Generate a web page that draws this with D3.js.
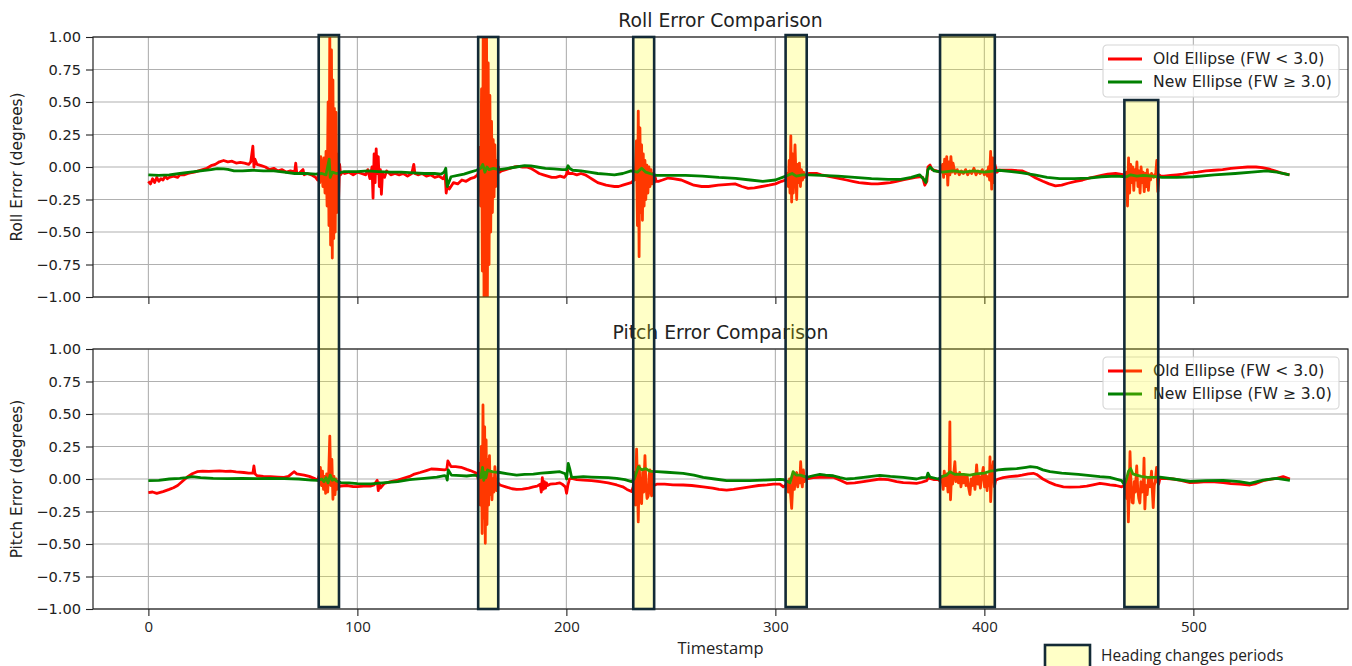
<!DOCTYPE html>
<html>
<head>
<meta charset="utf-8">
<script src="https://d3js.org/d3.v7.min.js"></script>
<style>
body { margin: 0; background: #fff; }
text { font-family: "DejaVu Sans", sans-serif; fill: #222; }
</style>
</head>
<body>
<script>

// tick values
var xTicks = [0, 100, 200, 300, 400, 500];
var yTicks = [-1, -0.75, -0.5, -0.25, 0, 0.25, 0.5, 0.75, 1];

// legend names
var seriesNames = ["Old Ellipse (FW < 3.0)", "New Ellipse (FW \u2265 3.0)"];
var periodName = "Heading changes periods";

// heading change periods (timestamp start/end, top in roll units, bottom in pitch units)
var periodStart = [81.5, 157.8, 232.0, 304.9, 378.8, 467.0];
var periodEnd = [91.2, 167.4, 242.0, 315.0, 405.0, 483.2];
var periodTop = [1.015, 1.0, 1.0, 1.015, 1.015, 0.515];
var periodBottom = [-0.985, -1.0, -1.0, -0.985, -0.985, -0.985];

// roll error, old ellipse [timestamp, degrees]
var rollOld = [[0,-0.11],[1,-0.13],[2,-0.09],[3,-0.12],[4,-0.08],[5,-0.11],[6,-0.09],[7,-0.1],[8,-0.07],[9,-0.09],[10,-0.08],[12,-0.07],[14,-0.08],[15,-0.06],[17,-0.06],[19,-0.05],[20,-0.045],[22,-0.04],[24,-0.03],[26,-0.02],[28,-0.01],[30,0.01],[32,0.02],[34,0.04],[36,0.05],[38,0.04],[40,0.045],[42,0.03],[44,0.035],[46,0.03],[48,0.02],[49,0.04],[50,0.16],[50.5,0.0],[51,0.06],[52,0.02],[54,0.01],[56,0.0],[58,-0.02],[60,-0.01],[62,-0.03],[64,-0.02],[66,-0.04],[68,-0.03],[70,-0.04],[70.5,0.03],[71,-0.05],[72,-0.05],[74,-0.02],[74.5,-0.06],[76,-0.05],[78,-0.06],[80,-0.08],[81,-0.1],
  [81.5,-0.05],[82,-0.12],[82.5,0.08],[83,-0.02],[83.5,-0.15],[84,0.07],[84.5,-0.2],[85,0.12],[85.5,-0.3],[86,0.5],[86.4,-0.45],[86.8,1.05],[87.2,-0.6],[87.6,0.9],[88,-0.7],[88.3,0.67],[88.7,-0.55],[89,0.45],[89.4,-0.5],[89.8,0.42],[90.2,-0.35],[90.6,0.1],[91,-0.25],[91.5,0.02],[92,-0.06],
  [92.5,-0.04],[94,-0.05],[96,-0.04],[98,-0.06],[100,-0.04],[102,-0.05],[104,-0.06],[105,-0.02],[106,-0.09],[107,0.0],[107.5,-0.24],[108,0.1],[108.5,-0.12],[109,0.14],[109.5,-0.05],[110,0.08],[110.5,-0.15],[111,-0.02],[111.5,-0.21],[112,-0.05],[113,-0.08],[114,-0.03],[116,-0.06],[118,-0.05],[120,-0.06],[122,-0.05],[124,-0.07],[126,-0.05],[127,0.02],[127.5,-0.05],[129,-0.06],[131,-0.05],[133,-0.07],[135,-0.06],[137,-0.08],[139,-0.07],[141,-0.09],[142,-0.06],[142.5,-0.2],[143,-0.14],[144,-0.17],[146,-0.12],[148,-0.13],[150,-0.1],[152,-0.11],[154,-0.09],[156,-0.08],[157.5,-0.06],
  [158,-0.03],[158.5,0.15],[159,-0.3],[159.4,0.6],[159.8,-0.8],[160.2,1.05],[160.6,-1.05],[161,1.05],[161.4,-1.05],[161.8,1.05],[162.2,-1.05],[162.6,0.8],[163,-0.75],[163.4,0.55],[163.8,-0.5],[164.2,0.35],[164.6,-0.35],[165,0.21],[165.4,-0.23],[165.8,0.17],[166.2,-0.15],[166.6,0.05],[167,-0.08],[167.5,0.0],[168,-0.04],
  [169,-0.03],[171,-0.02],[173,-0.01],[175,0.0],[177,0.005],[179,0.0],[181,0.0],[183,-0.01],[185,-0.03],[187,-0.05],[189,-0.06],[191,-0.07],[193,-0.08],[195,-0.08],[197,-0.07],[199,-0.08],[200,-0.06],[200.5,-0.02],[201,-0.05],[203,-0.05],[205,-0.06],[207,-0.05],[209,-0.06],[211,-0.08],[213,-0.1],[215,-0.12],[217,-0.13],[219,-0.14],[221,-0.145],[223,-0.15],[225,-0.15],[227,-0.14],[229,-0.13],[231,-0.12],[232.5,-0.1],
  [233,-0.05],[233.5,0.2],[234,-0.45],[234.4,0.43],[234.8,-0.69],[235.2,0.3],[235.6,-0.35],[236,0.17],[236.4,-0.41],[236.8,0.1],[237.2,-0.3],[237.6,0.05],[238,-0.25],[238.5,0.015],[239,-0.2],[239.5,0.0],[240,-0.15],[240.5,-0.02],[241,-0.13],[241.5,-0.05],[242,-0.12],[242.5,-0.08],[243,-0.11],
  [244,-0.11],[246,-0.1],[248.7,-0.085],[251,-0.09],[255,-0.1],[258,-0.12],[261,-0.14],[264.7,-0.15],[268,-0.15],[272.7,-0.14],[276,-0.135],[280.7,-0.13],[284,-0.15],[287,-0.165],[290,-0.16],[293.5,-0.15],[297,-0.14],[300,-0.13],[303,-0.11],[305,-0.1],
  [305.8,-0.05],[306.2,-0.15],[306.6,0.05],[307,-0.2],[307.4,0.24],[307.8,-0.27],[308.2,0.1],[308.6,-0.2],[309.4,0.17],[310.2,-0.25],[310.6,0.02],[311,-0.12],[311.5,0.03],[312,-0.15],[312.5,-0.02],[313,-0.1],[313.5,-0.04],[314,-0.08],[315,-0.06],
  [316,-0.05],[318,-0.05],[320,-0.05],[322,-0.06],[325,-0.07],[328,-0.08],[331,-0.09],[334,-0.1],[337,-0.11],[340,-0.12],[343,-0.125],[346,-0.13],[349,-0.13],[352,-0.125],[355,-0.12],[358,-0.11],[361,-0.1],[364,-0.09],[367,-0.08],[369,-0.075],[370.5,-0.08],[371.5,-0.14],[372.5,-0.11],[373,0.0],[374,0.015],[375,-0.02],[377,-0.03],[379,-0.04],
  [379.5,-0.03],[380,0.02],[380.5,-0.08],[381,0.06],[381.5,-0.05],[382,0.08],[382.5,-0.14],[383,0.04],[383.5,-0.06],[384,0.08],[384.5,-0.04],[385,0.03],[386,-0.05],[387,-0.02],[388,-0.06],[389,-0.03],[390,-0.05],[391,-0.02],[392,-0.06],[393,-0.03],[394,-0.05],[395,-0.01],[396,-0.06],[397,-0.03],[398,-0.05],[399,-0.02],[400,-0.06],[401,-0.03],[401.5,-0.07],[402,0.0],[402.5,-0.1],[403,0.12],[403.5,-0.17],[404,0.07],[404.5,-0.12],[405,0.02],[406,-0.04],
  [407,-0.025],[410,-0.025],[413,-0.025],[418,-0.03],[421,-0.05],[424.6,-0.085],[428,-0.11],[431,-0.13],[434,-0.145],[437,-0.14],[440,-0.125],[443.7,-0.11],[447,-0.1],[450,-0.085],[453,-0.075],[456,-0.065],[459,-0.055],[462.8,-0.05],[465,-0.055],[467,-0.06],
  [468,-0.04],[468.5,-0.3],[469,0.07],[469.5,-0.2],[470,0.02],[470.5,-0.12],[471,0.0],[471.5,-0.18],[472,-0.02],[472.5,-0.1],[473,0.04],[473.5,-0.15],[474,-0.03],[474.5,-0.2],[475,0.0],[475.5,-0.12],[476,-0.04],[476.5,-0.19],[477,-0.05],[477.5,-0.15],[478,-0.02],[478.5,-0.18],[479,-0.06],[479.5,-0.1],[480,-0.05],[481,-0.08],[482,-0.05],[482.5,0.05],[483,-0.19],[483.5,-0.06],[484.5,-0.07],
  [486,-0.07],[489,-0.065],[492,-0.06],[495,-0.055],[498,-0.045],[502,-0.04],[506,-0.03],[510,-0.025],[514,-0.02],[518,-0.01],[522,-0.005],[526,0.0],[530,0.0],[533,-0.005],[536,-0.015],[539,-0.03],[542,-0.045],[546,-0.06]];

// roll error, new ellipse
var rollNew = [[0,-0.06],[5,-0.065],[10,-0.06],[15,-0.05],[20,-0.04],[25,-0.03],[30,-0.02],[33,-0.013],[36,-0.015],[38,-0.018],[41,-0.03],[45,-0.03],[50,-0.025],[55,-0.03],[60,-0.03],[65,-0.04],[70,-0.05],[75,-0.05],[80,-0.055],[83,-0.05],[85,-0.06],[86.5,0.06],[87,-0.08],[88,-0.04],[90,-0.05],[93.7,-0.035],[100,-0.035],[105,-0.03],[110,-0.035],[116,-0.04],[121,-0.04],[127,-0.045],[132,-0.05],[137,-0.05],[140,-0.055],[141.5,-0.04],[142.3,-0.01],[143,-0.15],[144.8,-0.075],[148,-0.065],[151,-0.055],[154,-0.04],[157,-0.025],[159,-0.01],[160,0.02],[161,-0.04],[162,0.0],[163,-0.02],[165,-0.01],[168,-0.02],[172,-0.01],[176,0.0],[180,0.01],[183,0.008],[186,0.0],[190,-0.01],[194,-0.015],[198,-0.02],[200,-0.02],[200.8,0.01],[201.5,-0.01],[203,-0.025],[207,-0.03],[211,-0.04],[215,-0.05],[219,-0.055],[223,-0.06],[227,-0.05],[231,-0.03],[234,-0.04],[236,-0.01],[238,-0.04],[240,-0.05],[243,-0.065],[250,-0.065],[257,-0.065],[265,-0.07],[273,-0.08],[281,-0.087],[288,-0.1],[294,-0.11],[300,-0.1],[305,-0.07],[308,-0.05],[310,-0.07],[313,-0.06],[316,-0.06],[322,-0.065],[330,-0.07],[338,-0.08],[346,-0.09],[354,-0.095],[360,-0.095],[365,-0.08],[369,-0.06],[370.8,-0.09],[372,-0.12],[373,-0.02],[374,0.0],[376,-0.03],[380,-0.04],[385,-0.03],[390,-0.04],[395,-0.03],[400,-0.04],[405,-0.03],[407,-0.025],[413,-0.035],[418,-0.045],[424,-0.06],[430,-0.08],[436,-0.09],[443,-0.09],[450,-0.085],[456,-0.075],[463,-0.07],[468,-0.075],[470,-0.06],[473,-0.07],[476,-0.065],[480,-0.07],[485,-0.08],[492,-0.08],[500,-0.075],[510,-0.06],[520,-0.05],[528,-0.04],[535,-0.03],[540,-0.04],[546,-0.06]];

// pitch error, old ellipse
var pitchOld = [[0,-0.105],[2,-0.1],[4,-0.11],[7,-0.097],[10,-0.08],[12,-0.067],[14,-0.05],[17,-0.008],[19,0.02],[21,0.04],[23.3,0.056],[26,0.06],[29,0.058],[31.3,0.06],[34,0.062],[37,0.058],[39.3,0.06],[42,0.055],[45.7,0.05],[48,0.045],[50,0.045],[50.5,0.1],[51,0.04],[52,0.025],[55,0.02],[58.5,0.018],[62,0.015],[64.9,0.013],[67,0.02],[69.7,0.056],[71,0.04],[74.5,0.03],[77,0.02],[79.3,0.005],[81,-0.01],[81.8,0.03],
  [82.3,0.09],[82.8,-0.05],[83.3,0.06],[83.8,-0.08],[84.3,0.02],[84.8,-0.11],[85.3,0.04],[85.8,-0.1],[86.3,0.05],[86.8,0.33],[87.3,-0.05],[87.8,0.15],[88.3,-0.156],[88.8,0.02],[89.3,-0.12],[89.8,0.0],[90.3,-0.08],[90.8,-0.02],[91.3,-0.06],
  [92,-0.054],[95,-0.05],[98,-0.058],[100,-0.059],[103,-0.055],[106.5,-0.054],[108,-0.045],[109.5,-0.01],[110,-0.09],[110.5,-0.03],[111,-0.07],[112.9,-0.033],[116,-0.02],[119.3,-0.008],[122,0.005],[125,0.02],[127.3,0.038],[130,0.05],[133,0.065],[135.3,0.077],[138,0.075],[141.7,0.07],[142.8,0.075],[143.3,0.14],[144.8,0.095],[147,0.095],[149.6,0.09],[152.3,0.074],[154,0.065],[156.3,0.05],[157.3,0.04],
  [157.8,0.0],[158.3,0.12],[158.8,-0.2],[159.3,0.25],[159.7,-0.42],[160.1,0.57],[160.5,-0.3],[160.9,0.4],[161.2,-0.495],[161.6,0.3],[162,-0.35],[162.4,0.15],[162.8,-0.2],[163.2,0.18],[163.6,-0.12],[164,0.05],[164.4,-0.16],[164.8,0.0],[165.3,-0.1],[165.8,0.095],[166.3,-0.04],[166.7,-0.09],[167.3,-0.03],
  [168.2,-0.046],[171,-0.06],[174,-0.075],[176.2,-0.08],[179,-0.078],[182,-0.07],[184.2,-0.06],[186,-0.055],[187.5,-0.04],[188,-0.1],[188.5,0.01],[189,-0.08],[189.5,-0.02],[190,-0.07],[190.5,-0.03],[191,-0.05],[192.2,-0.04],[195,-0.035],[196.9,-0.03],[198,-0.04],[199.5,-0.06],[200.1,-0.11],[200.7,-0.05],[201.5,0.0],[202.5,0.005],[205,-0.005],[208.1,-0.008],[212,-0.013],[216.1,-0.02],[220,-0.03],[224.1,-0.046],[227,-0.06],[229,-0.08],[231.2,-0.097],
  [232,-0.06],[232.5,0.05],[233,-0.2],[233.6,0.23],[234.1,-0.1],[234.4,-0.33],[234.9,0.1],[235.4,-0.15],[236,-0.19],[236.5,0.05],[237,-0.1],[237.6,0.18],[238.1,-0.05],[238.6,-0.15],[239.2,-0.13],[239.6,0.03],[240,0.07],[240.4,-0.1],[240.8,-0.13],[241.3,0.05],[241.8,-0.05],
  [243.2,-0.04],[247,-0.04],[251,-0.045],[255.9,-0.046],[260,-0.05],[265.5,-0.06],[270,-0.07],[273,-0.08],[276.7,-0.085],[280,-0.08],[284,-0.07],[287.8,-0.06],[292,-0.05],[296,-0.045],[299,-0.04],[302.2,-0.04],[303.8,-0.06],
  [304.8,-0.05],[305.5,-0.03],[306.2,-0.1],[306.8,0.0],[307.3,-0.12],[307.8,-0.226],[308.3,-0.05],[308.6,0.044],[309.1,-0.08],[309.6,0.0],[310.2,0.05],[310.7,-0.06],[311.2,0.02],[311.7,-0.03],[312.1,0.133],[312.6,-0.02],[312.9,-0.06],[313.4,0.07],[313.9,-0.02],[314.4,0.02],
  [315,0.0],[318,0.01],[321.3,0.013],[324,0.015],[327.7,0.013],[331,-0.01],[334.1,-0.033],[338,-0.03],[342.1,-0.02],[346,-0.01],[350,0.0],[354,-0.005],[358,-0.02],[361.2,-0.028],[364,-0.03],[367.6,-0.033],[370,-0.025],[372.4,-0.013],[373.2,0.01],[374,0.005],[376,-0.005],[378,-0.005],
  [379,-0.02],[379.6,0.02],[380.3,-0.08],[380.8,0.06],[381.4,-0.05],[382,0.04],[382.6,-0.1],[383.2,0.02],[383.5,0.44],[383.8,-0.16],[384.3,0.03],[384.8,-0.04],[385.4,0.05],[385.9,0.133],[386.4,-0.02],[387,0.04],[387.6,-0.03],[388.2,0.05],[388.8,-0.06],[389.4,0.02],[390,-0.03],[390.6,0.03],[391.2,-0.05],[391.8,0.02],[392.4,-0.06],[393.1,-0.12],[393.7,0.0],[394.3,-0.05],[394.9,0.03],[395.5,-0.08],[396.3,0.108],[396.9,-0.04],[397.5,0.02],[398.1,-0.07],[398.7,0.01],[399.5,0.09],[400.1,-0.06],[400.7,0.03],[401.3,-0.09],[401.9,0.02],[402.4,-0.05],[402.7,0.17],[403,-0.174],[403.5,0.02],[404.3,0.133],[404.8,-0.06],[405.4,-0.01],
  [406.7,0.0],[409,0.01],[412,0.018],[415.5,0.023],[418,0.03],[421,0.04],[423.4,0.044],[425,0.035],[428,0.0],[431.4,-0.028],[434,-0.045],[437.8,-0.06],[441,-0.062],[445.7,-0.06],[449,-0.055],[452,-0.045],[455.3,-0.033],[458,-0.04],[460.1,-0.046],[463,-0.05],[465.7,-0.06],[467,-0.05],
  [467.6,-0.02],[468.1,-0.15],[468.5,0.0],[468.9,-0.33],[469.3,-0.1],[469.7,0.21],[470.2,-0.05],[470.7,-0.18],[471.2,-0.185],[471.7,-0.02],[472.2,-0.1],[472.9,0.1],[473.4,-0.08],[473.9,-0.15],[474.4,-0.185],[474.9,-0.02],[475.5,-0.1],[476.1,-0.03],[476.4,0.16],[476.8,-0.23],[477.3,-0.05],[477.9,-0.12],[478.5,0.0],[479.2,-0.06],[480,0.06],[480.4,-0.1],[480.8,-0.22],[481.3,-0.05],[481.8,-0.02],[482.4,0.09],[482.9,-0.02],[483.4,-0.04],
  [484,0.005],[487,0.003],[490.4,0.0],[494,-0.01],[498.4,-0.028],[502,-0.025],[506.4,-0.02],[510,-0.022],[514.3,-0.028],[518,-0.035],[522.3,-0.04],[527.1,-0.046],[530,-0.035],[533.4,-0.013],[536,-0.005],[539.9,0.005],[543,0.018],[546.2,0.0]];

// pitch error, new ellipse
var pitchNew = [[0,-0.013],[5,-0.01],[10,0.0],[15,0.005],[18,0.01],[21,0.018],[25,0.01],[31,0.005],[38,0.003],[45,0.005],[52,0.003],[58,0.005],[65,0.003],[72,0.0],[78,-0.008],[81,-0.01],[83,0.0],[84,-0.02],[85,0.01],[86,-0.03],[87,0.03],[88,-0.01],[89,0.0],[90,-0.015],[92,-0.028],[96,-0.03],[100,-0.035],[106.5,-0.038],[112,-0.03],[119.3,-0.02],[125,-0.005],[132,0.005],[138,0.015],[141.7,0.026],[142.5,0.02],[143,-0.008],[143.5,0.07],[145,0.03],[149.6,0.026],[152.3,0.023],[156,0.03],[158,0.023],[159,0.01],[159.9,0.09],[160.5,-0.01],[161,0.05],[161.5,0.01],[162.3,0.07],[163.5,0.06],[165,0.055],[168.2,0.05],[172,0.04],[176.2,0.03],[180,0.035],[184.2,0.038],[188,0.045],[192.2,0.05],[196.9,0.056],[199.5,0.04],[200.1,0.0],[200.9,0.12],[201.6,0.08],[202.5,0.013],[205,0.015],[208.1,0.018],[212,0.015],[216.1,0.013],[220,0.01],[224.1,0.005],[228,-0.005],[231.2,-0.02],[232.5,0.0],[234.5,0.095],[236,0.07],[238,0.08],[240,0.06],[241.9,0.056],[243.2,0.056],[248,0.052],[255.9,0.044],[261,0.03],[265.5,0.013],[271,0.0],[276.7,-0.013],[282,-0.013],[287.8,-0.013],[295,-0.008],[302.2,-0.003],[303.8,-0.005],[305.5,-0.015],[307,-0.03],[308.5,0.056],[310,0.03],[312,0.03],[315,0.013],[318,0.025],[321.3,0.036],[324,0.03],[327.7,0.025],[331,0.01],[334.1,0.0],[338,0.005],[342.1,0.013],[346,0.02],[350,0.028],[355,0.02],[361.2,0.013],[367.6,0.0],[370,0.01],[372.4,0.013],[373,0.045],[374,0.015],[378,0.0],[380,0.02],[382,0.03],[383.5,0.056],[386,0.035],[390,0.035],[393.1,0.03],[396,0.04],[400,0.045],[402.7,0.06],[405,0.065],[406.7,0.07],[410,0.075],[415.5,0.08],[420,0.09],[422,0.095],[425,0.09],[428,0.07],[431.4,0.056],[437,0.045],[445,0.035],[455.3,0.018],[460,0.013],[465.7,-0.013],[467,-0.045],[468,0.0],[469,0.06],[470,0.08],[471,0.04],[472.9,0.03],[475,0.02],[478,0.013],[482.4,0.013],[484,0.015],[490.4,0.0],[498.4,-0.018],[506,-0.012],[514.3,-0.01],[522,-0.02],[527.1,-0.033],[533.4,-0.008],[539.9,0.005],[546.2,-0.01]];


window.onload = function() {
	makeFigure();
};

function makeFigure() {

	// figure size and axes boxes
	var width = 1352;
	var height = 666;
	var left = 93;
	var right = 1348;
	var rollBox = {top: 37, bottom: 297};
	var pitchBox = {top: 349, bottom: 609};

	var svg = d3.select("body")
				.append("svg")
				.attr("width", width)
				.attr("height", height);

	var xScale = d3.scaleLinear()
					.domain([-26.5, 574])
					.range([left, right]);

	var yRoll = d3.scaleLinear().domain([-1, 1]).range([rollBox.bottom, rollBox.top]);
	var yPitch = d3.scaleLinear().domain([-1, 1]).range([pitchBox.bottom, pitchBox.top]);

	drawPanel(svg, xScale, yRoll, rollBox, "roll", "Roll Error Comparison", "Roll Error (degrees)", rollOld, rollNew, false);
	drawPanel(svg, xScale, yPitch, pitchBox, "pitch", "Pitch Error Comparison", "Pitch Error (degrees)", pitchOld, pitchNew, true);

	// x label
	svg.append("text")
	   .attr("x", (left + right) / 2)
	   .attr("y", 654)
	   .style("text-anchor", "middle")
	   .style("font-family", "'Open Sans', sans-serif")
	   .style("font-size", "16.5px")
	   .text("Timestamp");

	// heading change periods, on top of both panels
	svg.selectAll("rect.period")
		.data(periodStart)
		.enter()
		.append("rect")
		.attr("class", "period")
		.attr("x", function(d){ return xScale(d); })
		.attr("y", function(d, i){ return yRoll(periodTop[i]); })
		.attr("width", function(d, i){ return xScale(periodEnd[i]) - xScale(d); })
		.attr("height", function(d, i){ return yPitch(periodBottom[i]) - yRoll(periodTop[i]); })
		.style("fill", "yellow")
		.style("fill-opacity", 0.22)
		.style("stroke", "#132a36")
		.style("stroke-width", 2.6);

	// legend for the periods (bottom right, partly cut off)
	svg.append("rect")
	   .attr("x", 1045)
	   .attr("y", 645)
	   .attr("width", 45)
	   .attr("height", 26)
	   .style("fill", "yellow")
	   .style("fill-opacity", 0.22)
	   .style("stroke", "#132a36")
	   .style("stroke-width", 2.6);

	svg.append("text")
	   .attr("x", 1101)
	   .attr("y", 661)
	   .style("font-family", "'Open Sans', sans-serif")
	   .style("font-size", "15.5px")
	   .text(periodName);
}

function drawPanel(svg, xScale, yScale, box, id, title, ylabel, oldData, newData, showXLabels) {

	var left = xScale.range()[0];
	var right = xScale.range()[1];
	var g = svg.append("g");

	// clip for the lines
	svg.append("clipPath")
	   .attr("id", "clip-" + id)
	   .append("rect")
	   .attr("x", left)
	   .attr("y", box.top)
	   .attr("width", right - left)
	   .attr("height", box.bottom - box.top);

	// grid
	g.selectAll("line.vgrid")
	 .data(xTicks)
	 .enter()
	 .append("line")
	 .attr("x1", function(d){ return xScale(d); })
	 .attr("x2", function(d){ return xScale(d); })
	 .attr("y1", box.top)
	 .attr("y2", box.bottom)
	 .style("stroke", "#b0b0b0")
	 .style("stroke-width", 1.1);

	g.selectAll("line.hgrid")
	 .data(yTicks)
	 .enter()
	 .append("line")
	 .attr("x1", left)
	 .attr("x2", right)
	 .attr("y1", function(d){ return yScale(d); })
	 .attr("y2", function(d){ return yScale(d); })
	 .style("stroke", "#b0b0b0")
	 .style("stroke-width", 1.1);

	var line = d3.line()
				 .x(function(d){ return xScale(d[0]); })
				 .y(function(d){ return yScale(d[1]); });

	g.append("path")
	 .datum(oldData)
	 .attr("d", line)
	 .attr("clip-path", "url(#clip-" + id + ")")
	 .style("fill", "none")
	 .style("stroke", "red")
	 .style("stroke-width", 2.8)
	 .style("stroke-linejoin", "round");

	g.append("path")
	 .datum(newData)
	 .attr("d", line)
	 .attr("clip-path", "url(#clip-" + id + ")")
	 .style("fill", "none")
	 .style("stroke", "green")
	 .style("stroke-width", 2.8)
	 .style("stroke-linejoin", "round");

	// axes
	var yAxis = g.append("g")
				 .attr("transform", "translate(" + left + ",0)")
				 .call(d3.axisLeft(yScale).tickValues(yTicks).tickFormat(d3.format(".2f")).tickSize(7).tickPadding(5));

	var xAxis = g.append("g")
				 .attr("transform", "translate(0," + box.bottom + ")")
				 .call(d3.axisBottom(xScale).tickValues(xTicks).tickSize(7).tickPadding(5));

	yAxis.select(".domain").remove();
	xAxis.select(".domain").remove();
	g.selectAll(".tick line").style("stroke", "#222").style("stroke-width", 1.1);
	yAxis.selectAll("text").style("font-family", "'DejaVu Sans', sans-serif").style("font-size", "14.6px").style("fill", "#222");
	xAxis.selectAll("text").style("font-family", "'Open Sans', sans-serif").style("font-size", "15px").style("fill", "#222");
	if (!showXLabels) {
		xAxis.selectAll("text").remove();
	}

	// spines
	g.append("rect")
	 .attr("x", left)
	 .attr("y", box.top)
	 .attr("width", right - left)
	 .attr("height", box.bottom - box.top)
	 .style("fill", "none")
	 .style("stroke", "#222")
	 .style("stroke-width", 1.2);

	// title
	g.append("text")
	 .attr("x", (left + right) / 2)
	 .attr("y", box.top - 10)
	 .style("text-anchor", "middle")
	 .style("font-size", "18.8px")
	 .text(title);

	// y label
	g.append("text")
	 .attr("transform", "translate(17," + yScale(0) + ") rotate(-90)")
	 .attr("dy", "0.35em")
	 .style("text-anchor", "middle")
	 .style("font-size", "15.4px")
	 .text(ylabel);

	// legend
	var lg = g.append("g")
			  .attr("transform", "translate(1103," + (box.top + 8) + ")");

	lg.append("rect")
	  .attr("width", 236)
	  .attr("height", 52)
	  .attr("rx", 4)
	  .style("fill", "white")
	  .style("fill-opacity", 0.8)
	  .style("stroke", "#d6d6d6")
	  .style("stroke-width", 1.1);

	var colors = ["red", "green"];
	seriesNames.forEach(function(name, i){
		var cy = 14 + i * 23;
		lg.append("line")
		  .attr("x1", 5)
		  .attr("x2", 39)
		  .attr("y1", cy)
		  .attr("y2", cy)
		  .style("stroke", colors[i])
		  .style("stroke-width", 2.8);
		lg.append("text")
		  .attr("x", 50)
		  .attr("y", cy)
		  .attr("dy", "0.35em")
		  .style("font-size", "15.6px")
		  .text(name);
	});
}

</script>
</body>
</html>
